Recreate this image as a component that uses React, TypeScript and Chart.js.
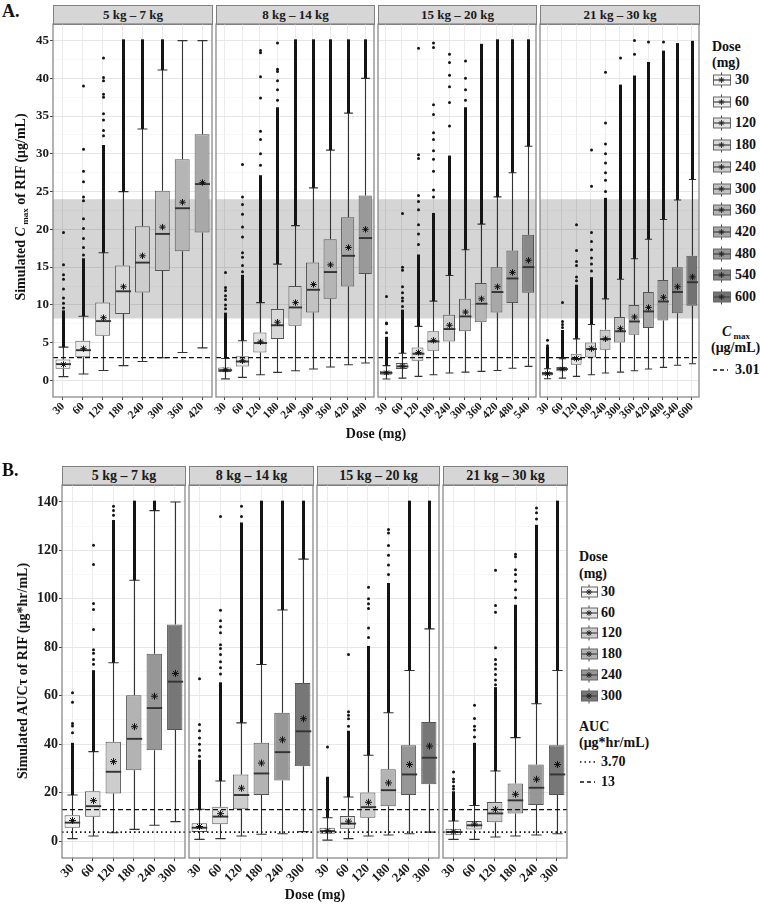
import React, { useEffect, useRef } from 'react';
import { Chart, registerables } from 'chart.js';

Chart.register(...registerables);

const FONT = "'Liberation Serif', 'Times New Roman', serif";

// ================= Panel A : Cmax of RIF (µg/mL) =================
// stats rows: [lower whisker, Q1, median, Q3, upper whisker, mean]
const A_DOSES_5_7 = [30, 60, 120, 180, 240, 300, 360, 420];
const A_STATS_5_7 = [
  [0.5, 1.55, 2.15, 2.75, 4.4, 2.1],
  [0.85, 3.05, 4.0, 5.25, 8.5, 4.2],
  [1.3, 5.9, 7.85, 10.3, 16.9, 8.3],
  [1.95, 8.8, 11.8, 15.2, 25.0, 12.4],
  [2.5, 11.65, 15.6, 20.4, 33.3, 16.5],
  [3.0, 14.5, 19.4, 25.1, 41.1, 20.3],
  [3.7, 17.1, 22.8, 29.3, 45.0, 23.6],
  [4.3, 19.6, 26.0, 32.6, 45.0, 26.2],
];
const A_DENSE_5_7 = [9.1, 16.0, 31.0, 45, 45, 45, null, null];
const A_SPARSE_5_7 = [
  [9.6, 10.2, 10.9, 12.1, 13.4, 14.0, 15.3, 19.6],
  [16.6, 17.6, 18.8, 20.1, 21.4, 23.8, 24.3, 26.3, 27.7, 30.6, 39.0],
  [32.4, 33.1, 34.5, 35.3, 37.5, 37.9, 39.7, 40.1, 42.7],
  [], [], [], [], [],
];

const A_DOSES_8_14 = [30, 60, 120, 180, 240, 300, 360, 420, 480];
const A_STATS_8_14 = [
  [0.2, 1.1, 1.35, 1.72, 2.9, 1.4],
  [0.4, 1.85, 2.5, 3.2, 5.25, 2.6],
  [0.75, 3.7, 4.95, 6.35, 10.3, 5.1],
  [1.06, 5.48, 7.3, 9.45, 15.4, 7.7],
  [1.28, 7.24, 9.66, 12.5, 20.5, 10.3],
  [1.5, 9.0, 12.0, 15.6, 25.5, 12.7],
  [1.77, 10.8, 14.35, 18.7, 30.5, 15.3],
  [2.08, 12.45, 16.5, 21.6, 35.4, 17.6],
  [2.3, 14.1, 18.85, 24.5, 40.0, 20.0],
];
const A_DENSE_8_14 = [8.8, 13.8, 27.0, 36.0, 45, 45, 45, 45, 45];
const A_SPARSE_8_14 = [
  [9.5, 10.0, 10.7, 11.2, 11.9, 12.3, 14.3],
  [14.4, 15.2, 16.3, 16.9, 19.0, 20.3, 22.0, 23.3, 24.3, 28.6],
  [28.5, 30.0, 31.9, 33.0, 37.4, 40.2, 43.4, 43.7],
  [37.1, 38.5, 39.7, 40.9, 41.2, 44.7],
  [], [], [], [], [],
];

const A_DOSES_15_20 = [30, 60, 120, 180, 240, 300, 360, 420, 480, 540];
const A_STATS_15_20 = [
  [0.18, 0.75, 1.0, 1.28, 1.95, 1.0],
  [0.3, 1.5, 1.85, 2.3, 3.6, 1.9],
  [0.53, 2.6, 3.53, 4.37, 7.15, 3.7],
  [0.75, 3.93, 5.16, 6.5, 10.5, 5.3],
  [0.98, 5.16, 6.8, 8.7, 13.9, 7.3],
  [1.1, 6.5, 8.47, 10.8, 17.3, 9.05],
  [1.2, 7.7, 10.15, 12.9, 20.7, 10.8],
  [1.3, 9.0, 11.7, 15.0, 24.3, 12.4],
  [1.6, 10.25, 13.5, 17.2, 27.5, 14.3],
  [1.85, 11.6, 15.0, 19.3, 31.0, 15.9],
];
const A_DENSE_15_20 = [5.6, 9.2, 16.5, 22.0, 29.6, 36.0, 44.4, 45, 45, 45];
const A_SPARSE_15_20 = [
  [6.3, 7.5, 7.6, 11.1],
  [9.8, 10.5, 10.9, 11.6, 12.4, 14.6, 15.0, 22.1],
  [18.0, 19.4, 20.6, 22.6, 23.7, 24.5, 29.4, 29.9, 44.0],
  [24.3, 25.2, 27.7, 29.3, 30.4, 31.9, 32.8, 35.2, 36.5, 44.1, 44.7],
  [33.7, 36.8, 38.9, 40.4, 42.1, 43.2],
  [37.1, 38.5, 40.0, 42.3],
  [], [], [], [],
];

const A_DOSES_21_30 = [30, 60, 120, 180, 240, 300, 360, 420, 480, 540, 600];
const A_STATS_21_30 = [
  [0.22, 0.66, 0.88, 1.1, 1.55, 0.9],
  [0.3, 1.2, 1.5, 1.77, 2.87, 1.5],
  [0.53, 2.08, 2.83, 3.53, 5.5, 2.9],
  [0.75, 3.04, 4.15, 5.03, 7.4, 4.2],
  [0.98, 4.06, 5.47, 6.7, 10.8, 5.5],
  [1.1, 5.03, 6.5, 8.4, 13.4, 6.85],
  [1.28, 6.05, 7.8, 10.0, 16.1, 8.4],
  [1.5, 6.93, 9.13, 11.7, 18.7, 9.66],
  [1.72, 7.94, 10.45, 13.3, 21.3, 11.0],
  [2.0, 8.9, 11.7, 15.0, 23.9, 12.4],
  [2.2, 9.9, 13.0, 16.5, 26.6, 13.7],
];
const A_DENSE_21_30 = [4.3, 6.5, 12.5, 13.5, 24.0, 39.0, 40.2, 42.0, 43.5, 44.5, 44.8];
const A_SPARSE_21_30 = [
  [4.6, 5.3],
  [7.0, 7.4, 7.8, 10.3],
  [13.2, 13.7, 15.2, 15.75, 17.2, 20.6],
  [14.5, 15.4, 16.2, 17.3, 18.4, 19.6, 25.7, 30.5],
  [25.0, 26.5, 27.5, 28.8, 30.0, 31.3, 34.1, 40.8],
  [42.7],
  [43.2, 45.0],
  [44.8],
  [44.8],
  [], [],
];

const A_DOSE_LEGEND = [30, 60, 120, 180, 240, 300, 360, 420, 480, 540, 600];
const A_FILLS = ['#f5f5f5', '#ececec', '#e2e2e2', '#d8d8d8', '#cdcdcd', '#c2c2c2', '#b5b5b5', '#a8a8a8', '#999999', '#888888', '#727272'];
const A_TARGET_BAND = [8.2, 24];
const A_CMAX_REF = 3.01;

// ================= Panel B : AUCtau of RIF (µg*hr/mL) =================
const B_DOSES = [30, 60, 120, 180, 240, 300];
const B_STATS_5_7 = [
  [1.0, 5.5, 7.6, 10.7, 19.0, 8.5],
  [2.1, 10.0, 14.4, 20.6, 36.9, 16.7],
  [3.4, 19.6, 28.6, 41.0, 73.6, 32.8],
  [4.8, 29.2, 42.2, 60.2, 107.7, 47.2],
  [6.5, 37.5, 54.9, 77.3, 136.4, 59.8],
  [8.0, 45.8, 65.8, 89.4, 140, 69.2],
];
const B_DENSE_5_7 = [40, 70, 132, 140, 140, null];
const B_SPARSE_5_7 = [
  [44.7, 47.5, 48.5, 57.3, 61.2],
  [73, 75, 77.5, 79, 87.3, 95.6, 98.1, 114.2, 122.1],
  [134.5, 136.5, 138.2],
  [], [], [],
];

const B_STATS_8_14 = [
  [0.7, 3.7, 5.5, 7.3, 13.1, 6.0],
  [1.0, 6.9, 10.1, 14.2, 24.8, 11.3],
  [2.1, 13.1, 19.0, 27.5, 48.8, 21.8],
  [2.8, 19.0, 27.9, 40.6, 72.9, 32.2],
  [3.0, 25.0, 36.7, 53.0, 95.4, 41.8],
  [3.9, 30.9, 45.3, 65.3, 116.4, 50.5],
];
const B_DENSE_8_14 = [33, 65, 131, 140, 140, 140];
const B_SPARSE_8_14 = [
  [35, 37.5, 40, 42.5, 45.5, 48.1, 67],
  [69, 71.5, 74, 77, 79.5, 81, 86, 88.5, 91, 95.3, 134],
  [134.0, 138.2],
  [], [], [],
];

const B_STATS_15_20 = [
  [0.4, 3.0, 4.1, 5.5, 9.6, 4.2],
  [1.0, 5.1, 7.2, 10.3, 18.2, 8.2],
  [2.1, 9.6, 14.0, 20.0, 35.4, 16.0],
  [2.5, 14.4, 21.0, 29.6, 53.0, 24.0],
  [3.0, 19.0, 27.5, 39.5, 70.4, 31.6],
  [3.7, 23.4, 34.4, 49.1, 87.6, 39.2],
];
const B_DENSE_15_20 = [26, 45, 80, 106, 140, 140];
const B_SPARSE_15_20 = [
  [38.8],
  [47.4, 50.5, 51.9, 53.4, 77],
  [84, 88, 96, 98, 100, 104.8],
  [110, 114, 118, 122, 127.2, 128.6],
  [], [],
];

const B_STATS_21_30 = [
  [0.7, 2.35, 3.7, 5.1, 8.25, 3.8],
  [0.7, 4.8, 6.5, 8.25, 14.7, 7.0],
  [1.65, 7.8, 11.4, 16.1, 28.9, 13.1],
  [2.1, 11.4, 16.8, 23.8, 42.7, 19.3],
  [2.5, 14.85, 22.0, 31.6, 56.7, 25.5],
  [3.0, 19.0, 27.5, 39.5, 70.4, 31.6],
];
const B_DENSE_21_30 = [20, 40, 63, 97, 130, 140];
const B_SPARSE_21_30 = [
  [21.5, 22.6, 24.5, 25.6, 28.5],
  [43, 45.8, 47.4, 50.6, 56.1],
  [64.5, 66.5, 68.8, 71, 73, 75, 79.8, 94.5, 97.2, 111.8],
  [100.4, 103.8, 107.3, 110, 112, 117.4, 118.4],
  [133, 135.5, 137.5],
  [],
];

const B_FILLS = ['#f2f2f2', '#e2e2e2', '#cdcdcd', '#b3b3b3', '#979797', '#777777'];
const B_AUC_REF_LOW = 3.70;
const B_AUC_REF_HIGH = 13;

const FACET_TITLES = ['5 kg – 7 kg', '8 kg – 14 kg', '15 kg – 20 kg', '21 kg – 30 kg'];

// ---------------- layout (pixels) ----------------
const A_COLS = [[53, 212], [216, 374], [378, 536], [540, 699]];
const B_COLS = [[62, 185], [189, 313], [317, 439], [443, 567]];

const fillMap = (doses, fills) => {
  const m = {};
  doses.forEach((d, i) => { m[d] = fills[i]; });
  return m;
};

const PANEL_A = {
  yMin: -2.2, yMax: 47.2, step: 2.5, major: 5,
  band: A_TARGET_BAND,
  refs: [{ v: A_CMAX_REF, dash: [5, 3], w: 1.3 }],
  fills: fillMap(A_DOSE_LEGEND, A_FILLS),
  plotTop: 24, plotBottom: 397, stripTop: 5,
  xH: 40, xFont: 11.5, yFont: 13, yAxisW: 40, meanR: 3.2, stripFont: 13,
  cols: A_COLS,
  facets: [
    { doses: A_DOSES_5_7, stats: A_STATS_5_7, dense: A_DENSE_5_7, sparse: A_SPARSE_5_7 },
    { doses: A_DOSES_8_14, stats: A_STATS_8_14, dense: A_DENSE_8_14, sparse: A_SPARSE_8_14 },
    { doses: A_DOSES_15_20, stats: A_STATS_15_20, dense: A_DENSE_15_20, sparse: A_SPARSE_15_20 },
    { doses: A_DOSES_21_30, stats: A_STATS_21_30, dense: A_DENSE_21_30, sparse: A_SPARSE_21_30 },
  ],
};

const PANEL_B = {
  yMin: -7, yMax: 147, step: 10, major: 20,
  band: null,
  refs: [
    { v: B_AUC_REF_LOW, dash: [1.5, 3], w: 1.6 },
    { v: B_AUC_REF_HIGH, dash: [5, 3], w: 1.3 },
  ],
  fills: fillMap(B_DOSES, B_FILLS),
  plotTop: 485, plotBottom: 858, stripTop: 466,
  xH: 44, xFont: 13, yFont: 14, yAxisW: 45, meanR: 3.5, stripFont: 14,
  cols: B_COLS,
  facets: [
    { doses: B_DOSES, stats: B_STATS_5_7, dense: B_DENSE_5_7, sparse: B_SPARSE_5_7 },
    { doses: B_DOSES, stats: B_STATS_8_14, dense: B_DENSE_8_14, sparse: B_SPARSE_8_14 },
    { doses: B_DOSES, stats: B_STATS_15_20, dense: B_DENSE_15_20, sparse: B_SPARSE_15_20 },
    { doses: B_DOSES, stats: B_STATS_21_30, dense: B_DENSE_21_30, sparse: B_SPARSE_21_30 },
  ],
};

const isMajor = (v, major) => Math.abs(v / major - Math.round(v / major)) < 1e-6;

function makePlugin(f, p) {
  return {
    id: 'boxExtras',
    beforeDatasetsDraw(chart) {
      const { ctx, chartArea: ca } = chart;
      const x = chart.scales.x;
      const y = chart.scales.y;
      ctx.save();
      if (p.band) {
        const yt = y.getPixelForValue(p.band[1]);
        const yb = y.getPixelForValue(p.band[0]);
        ctx.fillStyle = 'rgba(0,0,0,0.165)';
        ctx.fillRect(ca.left, yt, ca.right - ca.left, yb - yt);
      }
      const cw = (ca.right - ca.left) / f.doses.length;
      ctx.strokeStyle = '#333';
      ctx.lineWidth = 1.1;
      f.stats.forEach((s, i) => {
        const cx = Math.round(x.getPixelForValue(i)) + 0.5;
        const pLo = y.getPixelForValue(s[0]);
        const pQ1 = y.getPixelForValue(s[1]);
        const pQ3 = y.getPixelForValue(s[3]);
        const pHi = y.getPixelForValue(s[4]);
        ctx.beginPath();
        ctx.moveTo(cx, pQ3); ctx.lineTo(cx, pHi);
        ctx.moveTo(cx, pQ1); ctx.lineTo(cx, pLo);
        ctx.moveTo(cx - cw * 0.25, pHi); ctx.lineTo(cx + cw * 0.25, pHi);
        ctx.moveTo(cx - cw * 0.25, pLo); ctx.lineTo(cx + cw * 0.25, pLo);
        ctx.stroke();
      });
      ctx.restore();
    },
    afterDatasetsDraw(chart) {
      const { ctx, chartArea: ca } = chart;
      const x = chart.scales.x;
      const y = chart.scales.y;
      const cw = (ca.right - ca.left) / f.doses.length;
      ctx.save();
      f.stats.forEach((s, i) => {
        const cx = Math.round(x.getPixelForValue(i)) + 0.5;
        const bw = cw * 0.75;
        // median
        const pm = y.getPixelForValue(s[2]);
        ctx.strokeStyle = '#333';
        ctx.lineWidth = 1.9;
        ctx.beginPath();
        ctx.moveTo(cx - bw / 2, pm); ctx.lineTo(cx + bw / 2, pm);
        ctx.stroke();
        // mean asterisk
        const pMean = y.getPixelForValue(s[5]);
        const r = p.meanR;
        ctx.strokeStyle = '#111';
        ctx.lineWidth = 1;
        ctx.beginPath();
        ctx.moveTo(cx - r, pMean); ctx.lineTo(cx + r, pMean);
        ctx.moveTo(cx, pMean - r); ctx.lineTo(cx, pMean + r);
        const d = r * 0.72;
        ctx.moveTo(cx - d, pMean - d); ctx.lineTo(cx + d, pMean + d);
        ctx.moveTo(cx - d, pMean + d); ctx.lineTo(cx + d, pMean - d);
        ctx.stroke();
        // outliers
        ctx.fillStyle = '#141414';
        const top = f.dense[i];
        if (top !== null && top !== undefined && top > s[4]) {
          const y0 = y.getPixelForValue(s[4]);
          const y1 = y.getPixelForValue(top);
          ctx.fillRect(cx - 1.5, y1 - 1.3, 3, y0 - y1 + 1.3);
        }
        f.sparse[i].forEach((v) => {
          ctx.beginPath();
          ctx.arc(cx, y.getPixelForValue(v), 1.5, 0, Math.PI * 2);
          ctx.fill();
        });
      });
      // reference lines
      p.refs.forEach((rf) => {
        const py = y.getPixelForValue(rf.v);
        ctx.strokeStyle = '#111';
        ctx.lineWidth = rf.w;
        ctx.setLineDash(rf.dash);
        ctx.beginPath();
        ctx.moveTo(ca.left, py); ctx.lineTo(ca.right, py);
        ctx.stroke();
      });
      ctx.setLineDash([]);
      // panel border
      ctx.strokeStyle = '#808080';
      ctx.lineWidth = 1.2;
      ctx.strokeRect(ca.left, ca.top, ca.right - ca.left, ca.bottom - ca.top);
      ctx.restore();
    },
  };
}

function FacetChart({ facet, p, left, right, first }) {
  const ref = useRef(null);
  const yW = first ? p.yAxisW : 0;
  const padL = 22, padR = 6, padT = 8;
  const cw = right - left + yW + padL + padR;
  const ch = p.plotBottom - p.plotTop + padT + p.xH;
  useEffect(() => {
    const chart = new Chart(ref.current, {
      type: 'bar',
      data: {
        labels: facet.doses.map(String),
        datasets: [{
          data: facet.stats.map((s) => [s[1], s[3]]),
          backgroundColor: facet.doses.map((d) => p.fills[d]),
          borderColor: '#555555',
          borderWidth: 1,
          borderSkipped: false,
          barPercentage: 0.75,
          categoryPercentage: 1,
        }],
      },
      options: {
        responsive: false,
        animation: false,
        devicePixelRatio: 1,
        events: [],
        layout: { padding: { left: padL, right: padR, top: padT, bottom: 0 } },
        plugins: { legend: { display: false }, tooltip: { enabled: false } },
        scales: {
          x: {
            offset: true,
            border: { display: false },
            grid: { offset: false, color: '#ebebeb', lineWidth: 1, drawTicks: true, tickLength: 3, tickColor: '#444' },
            ticks: {
              autoSkip: false, minRotation: 45, maxRotation: 45, padding: 0,
              color: '#1a1a1a', font: { family: FONT, weight: 'bold', size: p.xFont },
            },
            afterFit: (s) => { s.height = p.xH; s.paddingLeft = 0; s.paddingRight = 0; },
          },
          y: {
            min: p.yMin, max: p.yMax,
            border: { display: false },
            grid: {
              color: (c) => (c.tick && isMajor(c.tick.value, p.major) ? '#e6e6e6' : '#f3f3f3'),
              lineWidth: (c) => (c.tick && isMajor(c.tick.value, p.major) ? 1 : 0.7),
              drawTicks: first, tickLength: 3,
              tickColor: (c) => (c.tick && isMajor(c.tick.value, p.major) ? '#444' : 'rgba(0,0,0,0)'),
            },
            ticks: {
              display: first, stepSize: p.step, includeBounds: false, autoSkip: false, padding: 1,
              color: '#1a1a1a', font: { family: FONT, weight: 'bold', size: p.yFont },
              callback: (v) => (isMajor(v, p.major) ? String(v) : ''),
            },
            afterFit: (s) => { s.width = yW; s.paddingTop = 0; s.paddingBottom = 0; },
          },
        },
      },
      plugins: [makePlugin(facet, p)],
    });
    return () => chart.destroy();
  }, []);
  return (
    <canvas
      ref={ref}
      width={cw}
      height={ch}
      style={{ position: 'absolute', left: left - yW - padL, top: p.plotTop - padT, width: cw, height: ch }}
    />
  );
}

function Strip({ text, left, right, top, bottom, size }) {
  return (
    <div style={{
      position: 'absolute', left, top, width: right - left + 1, height: bottom - top + 1,
      background: '#d6d6d6', border: '1.2px solid #808080', boxSizing: 'border-box',
      display: 'flex', alignItems: 'center', justifyContent: 'center',
      fontFamily: FONT, fontWeight: 'bold', fontSize: size, color: '#1a1a1a',
    }}>{text}</div>
  );
}

function Txt({ x, y, size, children, align = 'center', rotate = 0, style = {} }) {
  const tx = align === 'center' ? '-50%' : '0';
  return (
    <div style={{
      position: 'absolute', left: x, top: y, whiteSpace: 'nowrap',
      transform: `translate(${tx}, -50%)` + (rotate ? ` rotate(${rotate}deg)` : ''),
      transformOrigin: align === 'center' ? 'center' : 'left center',
      fontFamily: FONT, fontWeight: 'bold', fontSize: size, lineHeight: 1, color: '#111', ...style,
    }}>{children}</div>
  );
}

function KeyGlyph({ x, y, fill, w = 17, h = 10 }) {
  const H = 18;
  const r = 3;
  const cx = w / 2;
  const cy = H / 2;
  return (
    <svg width={w + 1} height={H} style={{ position: 'absolute', left: x, top: y - H / 2 }}>
      <line x1={cx} y1={1.5} x2={cx} y2={H - 1.5} stroke="#444" strokeWidth={1} />
      <rect x={0.5} y={cy - h / 2} width={w} height={h} fill={fill} stroke="#666" strokeWidth={1} />
      <line x1={0.5} y1={cy} x2={w + 0.5} y2={cy} stroke="#444" strokeWidth={1.2} />
      <line x1={cx - r} y1={cy} x2={cx + r} y2={cy} stroke="#222" strokeWidth={0.9} />
      <line x1={cx} y1={cy - r} x2={cx} y2={cy + r} stroke="#222" strokeWidth={0.9} />
      <line x1={cx - 2.2} y1={cy - 2.2} x2={cx + 2.2} y2={cy + 2.2} stroke="#222" strokeWidth={0.9} />
      <line x1={cx - 2.2} y1={cy + 2.2} x2={cx + 2.2} y2={cy - 2.2} stroke="#222" strokeWidth={0.9} />
    </svg>
  );
}

function LineKey({ x, y, dash, w = 16, lw = 1.3 }) {
  return (
    <svg width={w} height={6} style={{ position: 'absolute', left: x, top: y - 3 }}>
      <line x1={0} y1={3} x2={w} y2={3} stroke="#111" strokeWidth={lw} strokeDasharray={dash} />
    </svg>
  );
}

function Panel({ p }) {
  return (
    <>
      {p.cols.map((c, i) => (
        <Strip key={'s' + i} text={FACET_TITLES[i]} left={c[0]} right={c[1]} top={p.stripTop} bottom={p.plotTop} size={p.stripFont} />
      ))}
      {p.cols.map((c, i) => (
        <FacetChart key={'c' + i} facet={p.facets[i]} p={p} left={c[0]} right={c[1]} first={i === 0} />
      ))}
    </>
  );
}

export default function App() {
  return (
    <div style={{ position: 'absolute', left: 0, top: 0, width: 760, height: 905, background: '#fff', overflow: 'hidden' }}>
      {/* ---------- Panel A ---------- */}
      <Txt x={2} y={11} size={18} align="left">A.</Txt>
      <Panel p={PANEL_A} />
      <Txt x={21} y={207} size={14} rotate={-90}>
        Simulated <i>C</i><span style={{ fontSize: 9, position: 'relative', top: 3 }}> max</span> of RIF (μg/mL)
      </Txt>
      <Txt x={376} y={434} size={14}>Dose (mg)</Txt>
      <Txt x={712} y={47} size={14} align="left">Dose</Txt>
      <Txt x={712} y={63} size={14} align="left">(mg)</Txt>
      {A_DOSE_LEGEND.map((d, i) => (
        <React.Fragment key={'la' + d}>
          <KeyGlyph x={713} y={80 + i * 21.7} fill={A_FILLS[i]} />
          <Txt x={735} y={80 + i * 21.7} size={14} align="left">{d}</Txt>
        </React.Fragment>
      ))}
      <Txt x={722} y={332} size={14} align="left">
        <i>C</i><span style={{ fontSize: 9, position: 'relative', top: 3 }}> max</span>
      </Txt>
      <Txt x={711} y={348} size={14} align="left">(μg/mL)</Txt>
      <LineKey x={713} y={370} dash="4,3" w={15} />
      <Txt x={735} y={370} size={14} align="left">3.01</Txt>

      {/* ---------- Panel B ---------- */}
      <Txt x={2} y={470} size={18} align="left">B.</Txt>
      <Panel p={PANEL_B} />
      <Txt x={23} y={671} size={14} rotate={-90}>Simulated AUCτ of RIF (μg*hr/mL)</Txt>
      <Txt x={315} y={895} size={14}>Dose (mg)</Txt>
      <Txt x={579} y={557} size={14} align="left">Dose</Txt>
      <Txt x={579} y={574} size={14} align="left">(mg)</Txt>
      {B_DOSES.map((d, i) => (
        <React.Fragment key={'lb' + d}>
          <KeyGlyph x={581} y={592 + i * 20.7} fill={B_FILLS[i]} w={16} />
          <Txt x={601} y={592 + i * 20.7} size={14} align="left">{d}</Txt>
        </React.Fragment>
      ))}
      <Txt x={579} y={727} size={14} align="left">AUC</Txt>
      <Txt x={579} y={743} size={14} align="left">(μg*hr/mL)</Txt>
      <LineKey x={580} y={762} dash="1.5,3" w={15} lw={1.5} />
      <Txt x={601} y={762} size={14} align="left">3.70</Txt>
      <LineKey x={580} y={782} dash="4,3" w={15} />
      <Txt x={601} y={782} size={14} align="left">13</Txt>
    </div>
  );
}
